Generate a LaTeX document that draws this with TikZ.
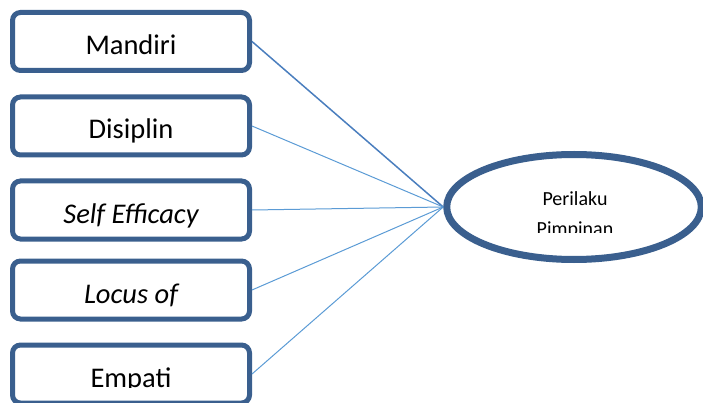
\documentclass[tikz,border=0pt]{standalone}
\usepackage{fontspec}
\setmainfont{Carlito}
\usetikzlibrary{shapes.geometric}
\definecolor{frameblue}{HTML}{3A5F8E}
\definecolor{linkdark}{HTML}{4A7EBE}
\definecolor{linklight}{HTML}{5B9BD5}
\tikzset{
  varbox/.style={draw=frameblue, line width=5pt, rounded corners=8pt,
    minimum width=237pt, minimum height=58pt, inner sep=0pt},
  outcome/.style={draw=frameblue, line width=7pt, ellipse,
    minimum width=254.6pt, minimum height=105pt, inner sep=0pt},
  boxlabel/.style={anchor=base, inner sep=0pt, font=\fontsize{28.5}{30}\selectfont},
  ovallabel/.style={anchor=base, inner sep=0pt, font=\fontsize{20}{22}\selectfont},
  linkmain/.style={draw=linkdark, line width=1.5pt},
  linkside/.style={draw=linklight, line width=1pt}
}
\begin{document}
\begin{tikzpicture}[x=1pt, y=-1pt]
  \useasboundingbox (0,0) rectangle (703,403);

  % predictor boxes
  \node[varbox] (b1) at (131,41.5) {};
  \node[varbox] (b2) at (131,126) {};
  \node[varbox] (b3) at (131,210) {};
  \node[varbox] (b4) at (131,290) {};
  \node[varbox] (b5) at (131,374) {};

  % outcome ellipse
  \node[outcome] (e) at (574,207) {};

  % links from each predictor to the outcome
  \draw[linkmain] (b1.east) -- (e.west);
  \draw[linkside] (b2.east) -- (e.west);
  \draw[linkside] (b3.east) -- (e.west);
  \draw[linkside] (b4.east) -- (e.west);
  \draw[linkside] (b5.east) -- (e.west);

  % labels
  \node[boxlabel] (t1) at (131,55) {Mandiri};
  \node[boxlabel] (t2) at (131,139) {Disiplin};
  \node[boxlabel] (t3) at (131,223) {\itshape Self Efficacy};
  \node[boxlabel] (t4) at (131,303) {\itshape Locus of};
  \begin{scope}
    \clip (0,0) rectangle (703,387);
    \node[boxlabel] (t5) at (131,387) {Empati};
  \end{scope}

  \node[ovallabel] (o1) at (575,206) {Perilaku};
  \begin{scope}
    \clip (450,160) rectangle (700,232);
    \node[ovallabel] (o2) at (575,235) {Pimpinan};
  \end{scope}
\end{tikzpicture}
\end{document}
